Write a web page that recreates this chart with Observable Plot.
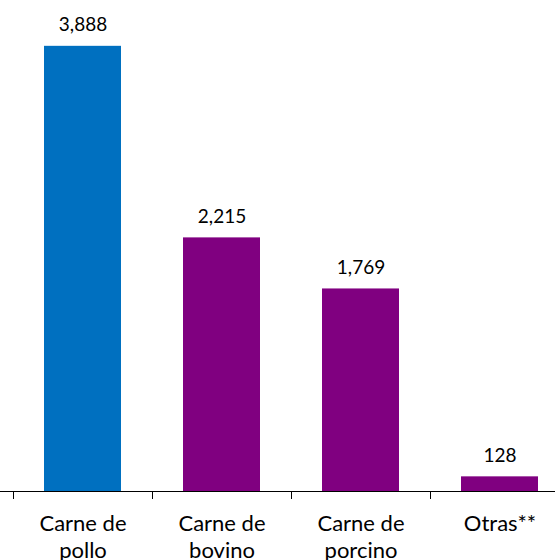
<!DOCTYPE html>
<html>
<head>
<meta charset="utf-8">
<script src="https://cdn.jsdelivr.net/npm/d3@7"></script>
<script src="https://cdn.jsdelivr.net/npm/@observablehq/plot@0.6"></script>
<style>
  html, body { margin: 0; padding: 0; background: #fff; }
  #chart svg { display: block; }
</style>
</head>
<body>
<div id="chart"></div>
<script>
const categories = ["Carne de pollo", "Carne de bovino", "Carne de porcino", "Otras**"];
const tickLabels = ["Carne de\npollo", "Carne de\nbovino", "Carne de\nporcino", "Otras**"];
const values = [3888, 2215, 1769, 128];
const colors = ["#0070C0", "#800080", "#800080", "#800080"];

const data = categories.map((c, i) => ({cat: c, value: values[i], label: tickLabels[i], color: colors[i]}));
const fmt = d3.format(",");
const font = "Lato, 'Open Sans', sans-serif";

const step = (569 - 13) / categories.length;

const chart = Plot.plot({
  width: 555,
  height: 560,
  marginTop: 0, marginBottom: 0, marginLeft: 0, marginRight: 0,
  style: {fontFamily: font, color: "#000", background: "#fff"},
  x: {domain: categories, range: [13, 569], paddingInner: 0.445, paddingOuter: 0.2225, axis: null},
  y: {domain: [0, 4000], range: [491, 33], axis: null},
  marks: [
    Plot.barY(data, {x: "cat", y: "value", fill: "color"}),
    Plot.ruleY([0], {stroke: "#000", strokeWidth: 1}),
    Plot.ruleX(data, {x: "cat", y1: 0, y2: -70, dx: -step / 2, stroke: "#000", strokeWidth: 1}),
    Plot.text(data, {x: "cat", y: "value", text: d => fmt(d.value), dy: -21, fontSize: 19, fill: "#000"}),
    Plot.text(data, {x: "cat", y: 0, text: "label", lineAnchor: "top", dy: 20, lineHeight: 1.23, fontSize: 22, fill: "#000"})
  ]
});
document.getElementById("chart").appendChild(chart);
</script>
</body>
</html>
